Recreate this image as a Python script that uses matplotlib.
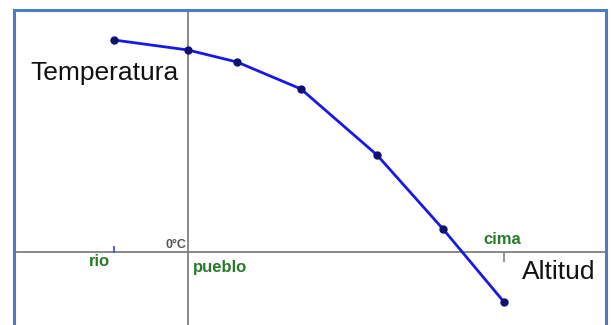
import matplotlib.pyplot as plt
from matplotlib.lines import Line2D

# altitude (arbitrary units, 0 = pueblo) and temperature (deg C)
altitud = [-370, 0, 245, 565, 945, 1275, 1580]
temperatura = [21.3, 20.3, 19.1, 16.4, 9.8, 2.4, -4.9]

# marked places along the altitude axis
lugares = ['rio', 'pueblo', 'cima']
lugar_alt = [-370, 0, 1580]

plt.rcParams['font.family'] = ['Liberation Sans', 'DejaVu Sans']

fig = plt.figure(figsize=(6.11, 3.25), dpi=100)
# axes fills the inside of the blue frame, so the axis lines stop at it
ax = fig.add_axes([14 / 611, 0, 591 / 611, 316 / 325])
ax.set_xlim(-870, 2085)
ax.set_ylim(-7.2, 24.4)
ax.axis('off')

# axes through the origin
grey = '#7f7f7f'
ax.axhline(0.1, color=grey, lw=1.3, zorder=1)
ax.axvline(0, color=grey, lw=1.3, zorder=1)

# ticks: rio (blue, above), cima (grey, below)
ax.vlines(lugar_alt[0], 0, 0.7, color='#4040e0', lw=1.2)
ax.vlines(lugar_alt[2], -0.85, 0, color=grey, lw=1.2)

# temperature curve
ax.plot(altitud, temperatura, color='#1818e6', lw=2.0, zorder=3,
        marker='o', ms=5, mfc='#101070', mec='#101070')

# labels
ax.text(-790, 18.0, 'Temperatura', fontsize=19, color='#111111', va='center', ha='left')
ax.text(1670, -1.9, 'Altitud', fontsize=19, color='#111111', va='center', ha='left')
ax.text(-10, 0.75, '0°C', fontsize=9, fontweight='bold', color='#555555', ha='right', va='center')

green = '#2a7a2a'
ax.text(-445, -0.85, lugares[0], fontsize=12, fontweight='bold', color=green, ha='center', va='center')
ax.text(25, -1.45, lugares[1], fontsize=12, fontweight='bold', color=green, ha='left', va='center')
ax.text(1570, 1.3, lugares[2], fontsize=12, fontweight='bold', color=green, ha='center', va='center')

# blue frame (open at the bottom)
frame = '#4a7ec0'
x0, x1 = 14 / 611, 605.5 / 611
ytop = 1 - 9.5 / 325
fig.add_artist(Line2D([x0, x0, x1, x1], [0, ytop, ytop, 0], transform=fig.transFigure,
                      color=frame, lw=2.2, solid_joinstyle='miter'))

fig.savefig('out.png', dpi=100)
